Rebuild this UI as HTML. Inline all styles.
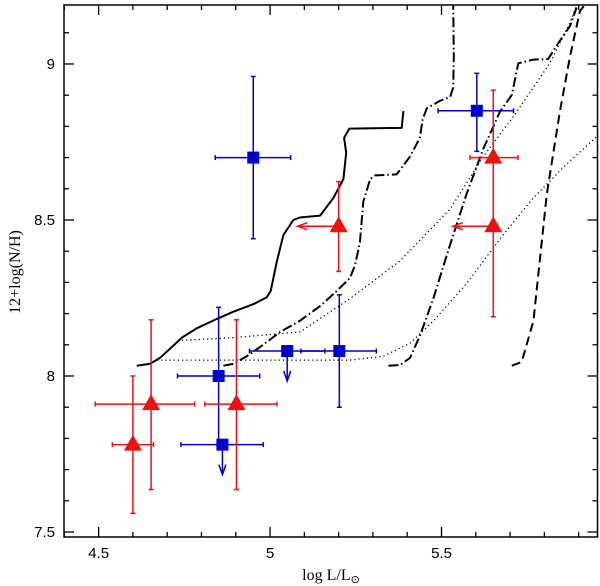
<!DOCTYPE html>
<html><head><meta charset="utf-8"><style>
html,body{margin:0;padding:0;background:#fff;}
svg{display:block;}
</style></head><body>
<svg id="chart" width="600" height="586" viewBox="0 0 600 586" xmlns="http://www.w3.org/2000/svg"></svg>
<script>
// ---- data ----
const xTicks = [4.5, 5, 5.5];
const xTickLabels = ["4.5", "5", "5.5"];
const yTicks = [7.5, 8, 8.5, 9];
const yTickLabels = ["7.5", "8", "8.5", "9"];

const sqX = [4.951, 4.85, 4.861, 5.05, 5.202, 5.603];
const sqY = [8.70, 8.00, 7.78, 8.08, 8.08, 8.85];
const sqXlo = [4.84, 4.73, 4.74, 4.94, 5.09, 5.49];
const sqXhi = [5.06, 4.97, 4.98, 5.16, 5.31, 5.71];
const sqYlo = [8.44, 7.78, 7.78, 8.08, 7.90, 8.72];
const sqYhi = [8.96, 8.22, 7.78, 8.08, 8.26, 8.97];
const sqUpper = [false, false, true, true, false, false];

const triX = [4.60, 4.653, 4.902, 5.20, 5.651, 5.651];
const triY = [7.78, 7.91, 7.91, 8.48, 8.70, 8.48];
const triXlo = [4.54, 4.49, 4.81, 5.20, 5.583, 5.651];
const triXhi = [4.66, 4.78, 5.02, 5.20, 5.723, 5.651];
const triYlo = [7.56, 7.636, 7.636, 8.335, 8.48, 8.19];
const triYhi = [8.00, 8.18, 8.18, 8.623, 8.916, 8.48];
const triLeftArrowTo = [null, null, null, 5.08, null, 5.533];

const solidX = [4.611,4.650,4.679,4.708,4.743,4.786,4.845,4.893,4.951,4.990,5.002,5.020,5.039,5.068,5.087,5.146,5.185,5.214,5.222,5.216,5.231,5.384,5.389];
const solidY = [8.033,8.039,8.058,8.087,8.123,8.153,8.183,8.206,8.230,8.252,8.272,8.368,8.452,8.500,8.508,8.514,8.571,8.631,8.715,8.763,8.793,8.795,8.849];
const dashDot1X = [4.864,4.893,4.932,4.971,5.029,5.087,5.146,5.194,5.233,5.248,5.262,5.272,5.292,5.306,5.369,5.408,5.437,5.445,5.457,5.496,5.525,5.534,5.536,5.534];
const dashDot1Y = [8.033,8.039,8.063,8.093,8.141,8.177,8.224,8.272,8.314,8.356,8.428,8.559,8.631,8.643,8.646,8.703,8.763,8.822,8.858,8.882,8.894,8.924,9.026,9.189];
const dashDot2X = [5.345,5.378,5.408,5.437,5.476,5.524,5.573,5.622,5.670,5.705,5.724,5.768,5.811,5.845,5.875,5.894];
const dashDot2Y = [8.033,8.035,8.058,8.129,8.248,8.417,8.583,8.728,8.846,8.901,9.002,9.014,9.016,9.074,9.122,9.181];
const dashedX = [5.705,5.734,5.768,5.807,5.845,5.875,5.904,5.918];
const dashedY = [8.033,8.045,8.176,8.583,8.846,9.026,9.170,9.189];
const dot1X = [4.743,4.893,5.087,5.233,5.379,5.525,5.622,5.719,5.816,5.875,5.894];
const dot1Y = [8.114,8.123,8.141,8.248,8.369,8.535,8.703,8.846,9.002,9.133,9.187];
const dot2X = [4.670,4.893,5.087,5.233,5.330,5.408,5.476,5.573,5.671,5.768,5.865,5.955];
const dot2Y = [8.051,8.051,8.051,8.051,8.063,8.105,8.176,8.296,8.440,8.571,8.679,8.769];

// ---- axes ----
const L=64, R=597.5, T=5, B=537;
const X0=4.399, X1=5.955, Y0=7.484, Y1=9.189;
const sx = v => L + (v - X0) / (X1 - X0) * (R - L);
const sy = v => B - (v - Y0) / (Y1 - Y0) * (B - T);
const NS="http://www.w3.org/2000/svg";
const svg=document.getElementById('chart');
function mk(tag, attrs, parent){const e=document.createElementNS(NS,tag);for(const k in attrs)e.setAttribute(k,attrs[k]);(parent||svg).appendChild(e);return e;}

const defs=mk('defs',{});
const cp=mk('clipPath',{id:'clip'},defs);
mk('rect',{x:L,y:T,width:R-L,height:B-T},cp);

// curves
const curves=mk('g',{'clip-path':'url(#clip)',fill:'none',stroke:'#000'});


function curve(xs,ys,name,dash,w){
  const d=xs.map((x,i)=>(i?'L':'M')+sx(x).toFixed(1)+' '+sy(ys[i]).toFixed(1)).join(' ');
  const p=mk('path',{d:d,'stroke-width':w,'stroke-dasharray':dash,'stroke-linejoin':'round'},curves);
  
  
}
curve(solidX,solidY,'solid-track','none',2);
curve(dashDot1X,dashDot1Y,'dash-dot-track-1','10 3 1.5 3',2);
curve(dashDot2X,dashDot2Y,'dash-dot-track-2','10 3 1.5 3',2);
curve(dashedX,dashedY,'dashed-track','9 5',2);
curve(dot1X,dot1Y,'dotted-track-1','1.2 3',1.3);
curve(dot2X,dot2Y,'dotted-track-2','1.2 3',1.3);

// frame and ticks
const frame=mk('rect',{x:L,y:T,width:R-L,height:B-T,fill:'none',stroke:'#000','stroke-width':1.5});


const tg=mk('g',{stroke:'#000','stroke-width':1.3});
for(let i=44;i<=59;i++){const v=i/10;if(v<X0||v>X1)continue;const x=sx(v);const len=(i%5===0)?10:5;
  mk('line',{x1:x,y1:B,x2:x,y2:B-len},tg);mk('line',{x1:x,y1:T,x2:x,y2:T+len},tg);}
for(let i=75;i<=91;i++){const v=i/10;const y=sy(v);const len=(i%5===0)?10:5;
  mk('line',{x1:L,y1:y,x2:L+len,y2:y},tg);mk('line',{x1:R,y1:y,x2:R-len,y2:y},tg);}
xTicks.forEach((v,i)=>{const t=mk('text',{x:sx(v),y:558,'text-anchor':'middle','font-family':'Liberation Sans, sans-serif','font-size':15});t.textContent=xTickLabels[i];
  
  });
yTicks.forEach((v,i)=>{const t=mk('text',{x:55,y:sy(v)+5,'text-anchor':'end','font-family':'Liberation Sans, sans-serif','font-size':15});t.textContent=yTickLabels[i];
  
  });

// axis titles
const xt=mk('text',{x:331,y:580,'text-anchor':'middle','font-family':'Liberation Serif, serif','font-size':16});
xt.innerHTML='log L/L<tspan font-size="11" dy="3">⊙</tspan>';


const yt=mk('text',{x:0,y:0,'text-anchor':'middle','font-family':'Liberation Serif, serif','font-size':16,transform:'translate(20,272) rotate(-90)'});
yt.textContent='12+log(N/H)';



// error bars helper
function errbar(g,x1,y1,x2,y2,horiz){
  mk('line',{x1:x1,y1:y1,x2:x2,y2:y2},g);
  if(horiz){mk('line',{x1:x1,y1:y1-2.5,x2:x1,y2:y1+2.5},g);mk('line',{x1:x2,y1:y2-2.5,x2:x2,y2:y2+2.5},g);}
  else{mk('line',{x1:x1-2.5,y1:y1,x2:x1+2.5,y2:y1},g);mk('line',{x1:x2-2.5,y1:y2,x2:x2+2.5,y2:y2},g);}
}

// blue squares
const blue='#0000cc';
const bg=mk('g',{stroke:blue,'stroke-width':1.5,fill:blue});


sqX.forEach((x,i)=>{
  const g=mk('g',{},bg);
  
  
  const px=sx(x),py=sy(sqY[i]);
  errbar(g,sx(sqXlo[i]),py,sx(sqXhi[i]),py,true);
  if(sqYlo[i]!==sqYhi[i]) errbar(g,px,sy(sqYhi[i]),px,sy(sqYlo[i]),false);
  if(sqUpper[i]){const ty=py+30;mk('line',{x1:px,y1:py,x2:px,y2:ty},g);
    mk('polyline',{points:`${px-3.5},${ty-10} ${px},${ty} ${px+3.5},${ty-10}`,fill:'none'},g);}
  mk('rect',{x:px-6,y:py-6,width:12,height:12,stroke:'none'},g);
});

// red triangles
const red='#ee1111';
const rg=mk('g',{stroke:red,'stroke-width':1.5,fill:red});


triX.forEach((x,i)=>{
  const g=mk('g',{},rg);
  
  
  const px=sx(x),py=sy(triY[i]);
  if(triXlo[i]!==triXhi[i]) errbar(g,sx(triXlo[i]),py,sx(triXhi[i]),py,true);
  errbar(g,px,sy(triYhi[i]),px,sy(triYlo[i]),false);
  if(triLeftArrowTo[i]!==null){const ax=sx(triLeftArrowTo[i]);mk('line',{x1:ax,y1:py,x2:px,y2:py},g);
    mk('polyline',{points:`${ax+10},${py-3.5} ${ax},${py} ${ax+10},${py+3.5}`,fill:'none'},g);}
  mk('polygon',{points:`${px},${py-10} ${px-9},${py+6} ${px+9},${py+6}`,stroke:'none'},g);
});
</script>
</body></html>
